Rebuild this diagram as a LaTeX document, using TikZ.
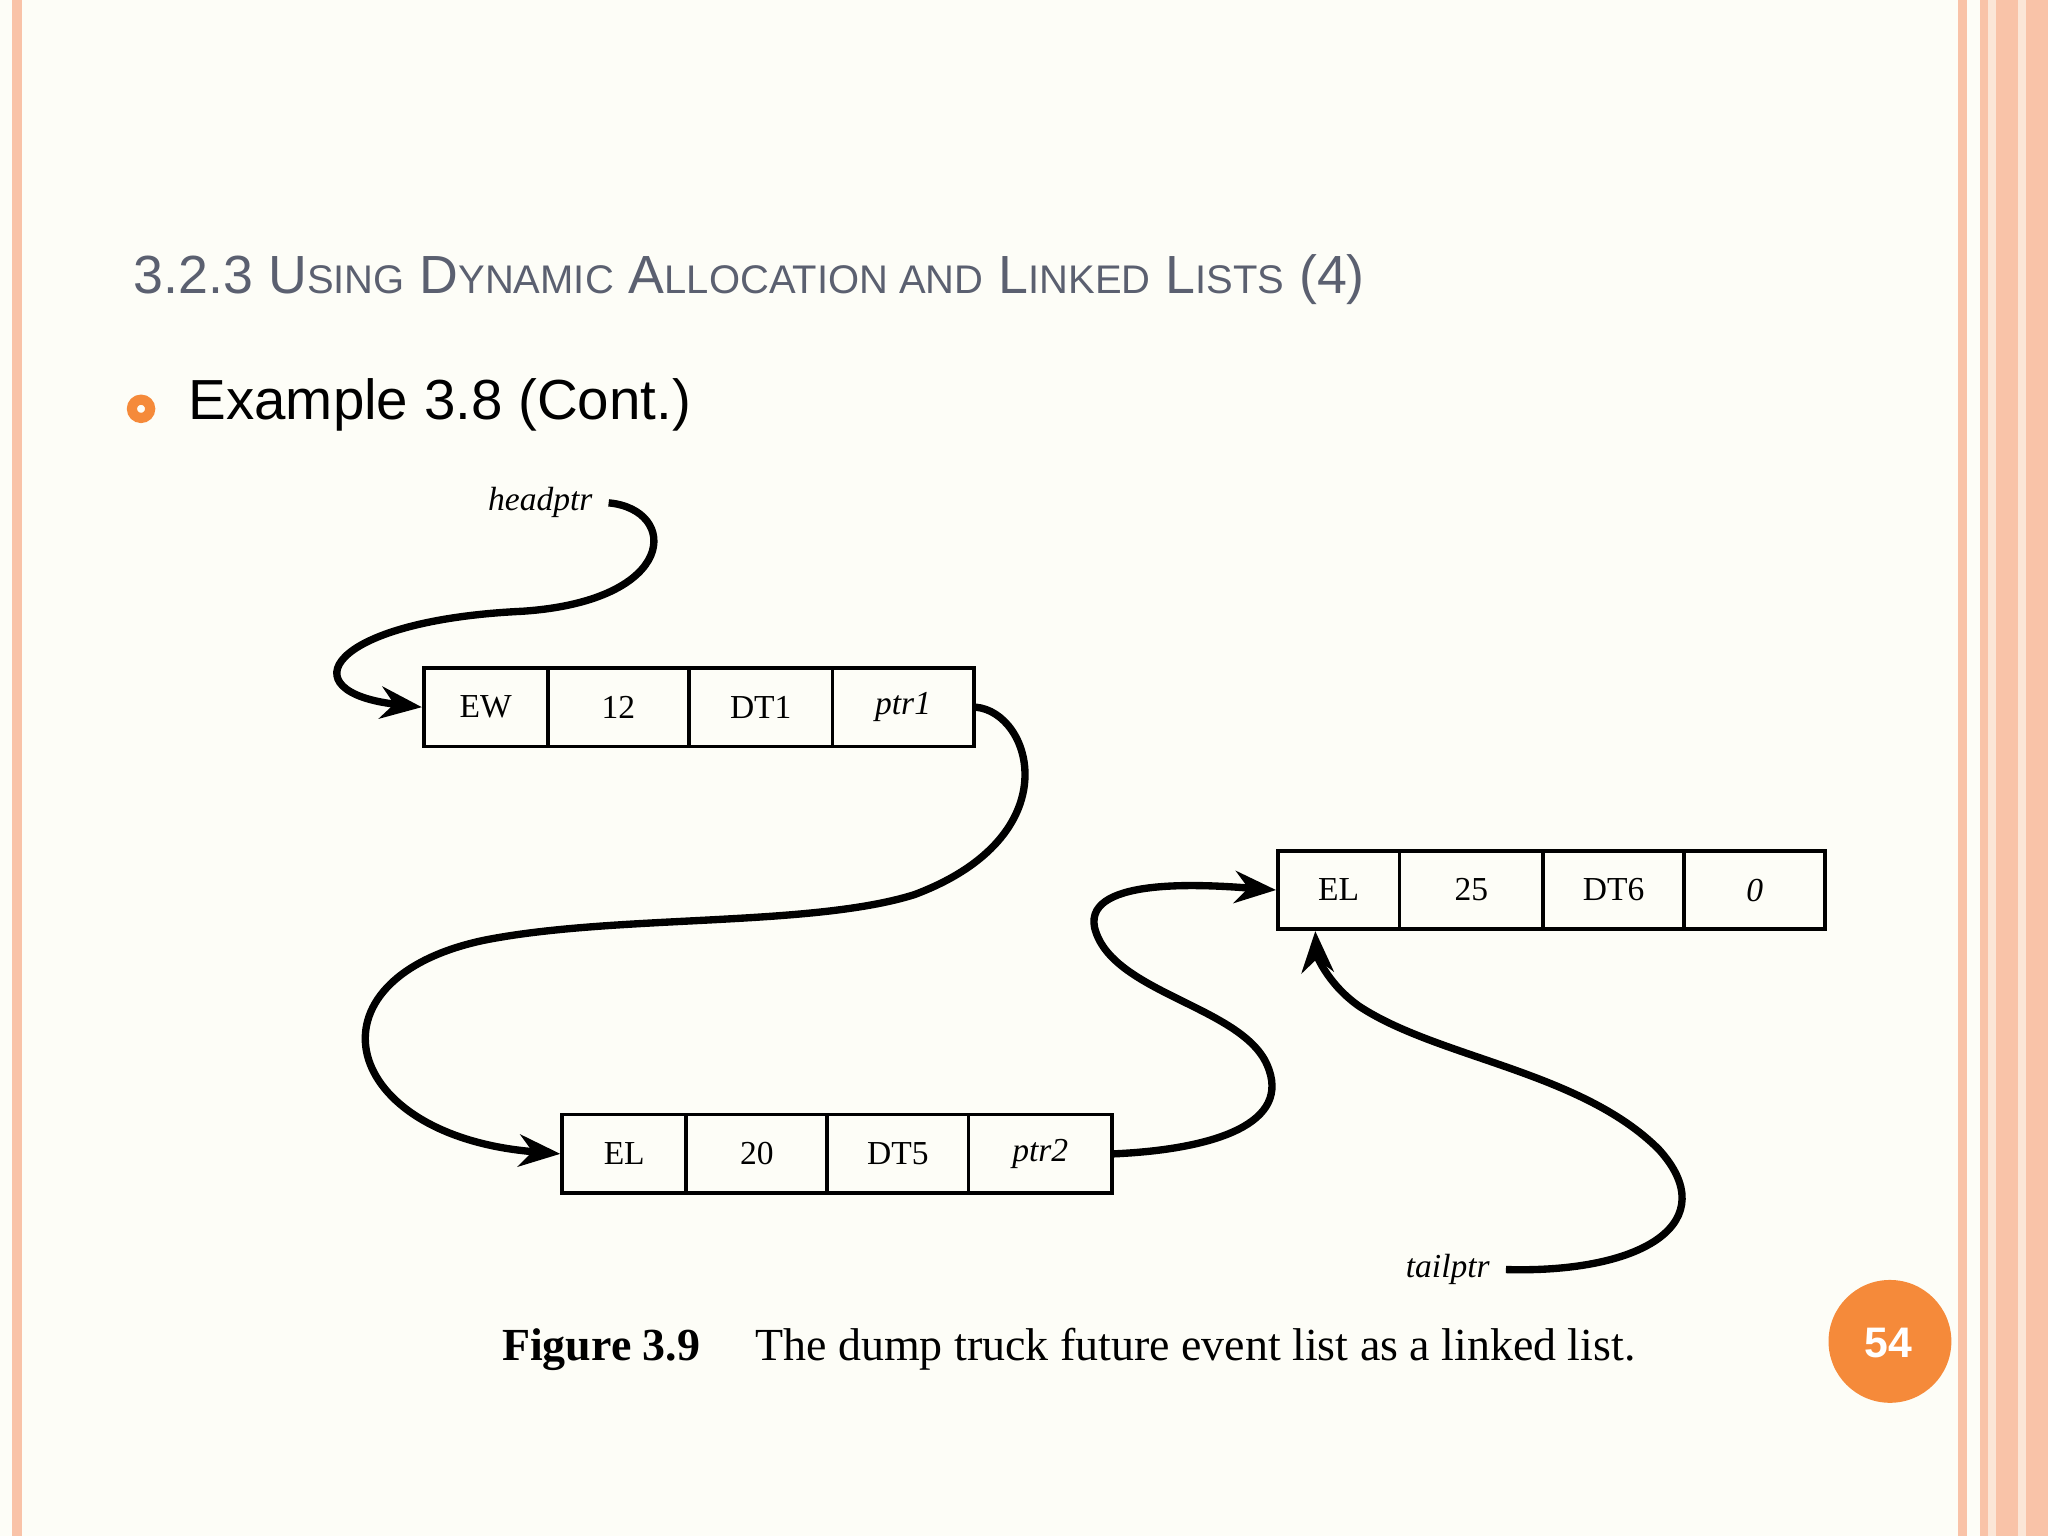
\documentclass[tikz,border=0pt]{standalone}
\usepackage{fontspec}
\setmainfont{Liberation Serif}
\newfontfamily\arial{Liberation Sans}
\usetikzlibrary{arrows.meta}
\definecolor{bg}{HTML}{FDFDF7}
\definecolor{stripe}{HTML}{F9C3A8}
\definecolor{titlec}{HTML}{5B6070}
\definecolor{orng}{HTML}{F58A3A}
\newcommand{\sm}[1]{{\fontsize{8.7pt}{9pt}\selectfont #1}}
\tikzset{cell/.style={draw,line width=0.8pt,minimum height=0.6cm,inner sep=0pt,anchor=north west,font=\fontsize{7.3pt}{8pt}\selectfont},
 lnk/.style={line width=1.6pt,-{Stealth[length=9pt,width=7pt]}}}
\begin{document}
\begin{tikzpicture}[x=0.01cm,y=-0.01cm]
\fill[bg] (0,0) rectangle (1568,1176);
\useasboundingbox (0,0) rectangle (1568,1176);
\fill[stripe] (9,0) rectangle (17,1176);
\fill[stripe] (1499,0) rectangle (1506,1176);
\fill[stripe] (1516,0) rectangle (1568,1176);
\fill[bg!60!stripe] (1522,0) rectangle (1528,1176);
\fill[bg!60!stripe] (1545,0) rectangle (1551,1176);
\node[anchor=west,text=titlec,font=\arial\fontsize{11.7pt}{13pt}\selectfont] (title) at (90,214)
 {3.2.3 U\sm{SING} D\sm{YNAMIC} A\sm{LLOCATION AND} L\sm{INKED} L\sm{ISTS} (4)};
\draw[orng,line width=2.2pt] (108,313) circle (0.07cm);
\node[anchor=west,font=\arial\fontsize{12.3pt}{14pt}\selectfont] (ex) at (132,310) {Example 3.8 (Cont.)};
% row 1
\node[cell,minimum width=0.95cm] (a1) at (323,510) {EW};
\node[cell,minimum width=1.08cm] (a2) at (418,510) {12};
\node[cell,minimum width=1.10cm] (a3) at (526,510) {DT1};
\node[cell,minimum width=1.08cm] (a4) at (636,510) {\itshape ptr1};
% row 2
\node[cell,minimum width=0.95cm] (b1) at (429,852) {EL};
\node[cell,minimum width=1.08cm] (b2) at (524,852) {20};
\node[cell,minimum width=1.08cm] (b3) at (632,852) {DT5};
\node[cell,minimum width=1.10cm] (b4) at (740,852) {\itshape ptr2};
% row 3
\node[cell,minimum width=0.93cm] (c1) at (977,650) {EL};
\node[cell,minimum width=1.10cm] (c2) at (1070,650) {25};
\node[cell,minimum width=1.08cm] (c3) at (1180,650) {DT6};
\node[cell,minimum width=1.08cm] (c4) at (1288,650) {\itshape 0};
\node[font=\itshape\fontsize{7.3pt}{8pt}\selectfont,anchor=east] (head) at (466,385) {headptr};
\node[font=\itshape\fontsize{7.3pt}{8pt}\selectfont,anchor=east] (tail) at (1153,972) {tailptr};
\draw[lnk] (head.east) .. controls (520,390) and (520,460) .. (400,468)
 .. controls (250,475) and (220,530) .. (a1.west);
\draw[lnk] (a4.east) .. controls (790,545) and (820,640) .. (700,685)
 .. controls (620,710) and (470,700) .. (370,720)
 .. controls (230,750) and (260,870) .. (b1.west);
\draw[lnk] (b4.east) .. controls (930,880) and (990,860) .. (970,815)
 .. controls (950,770) and (850,760) .. (838,710)
 .. controls (830,670) and (930,678) .. (c1.west);
\draw[lnk] (tail.east) .. controls (1260,975) and (1320,935) .. (1270,880)
 .. controls (1210,820) and (1100,810) .. (1040,770)
 .. controls (1015,752) and (1008,730) .. ([xshift=0.3cm]c1.south west);
\node[anchor=west,font=\fontsize{10pt}{12pt}\selectfont] (cap) at (372,1033) {\textbf{Figure 3.9}\hspace{1.2em}The dump truck future event list as a linked list.};
\fill[orng] (1447,1027) circle (0.47cm);
\node[text=white,font=\arial\bfseries\fontsize{9.3pt}{11pt}\selectfont] (pg) at (1446,1028) {54};
\end{tikzpicture}
\end{document}
